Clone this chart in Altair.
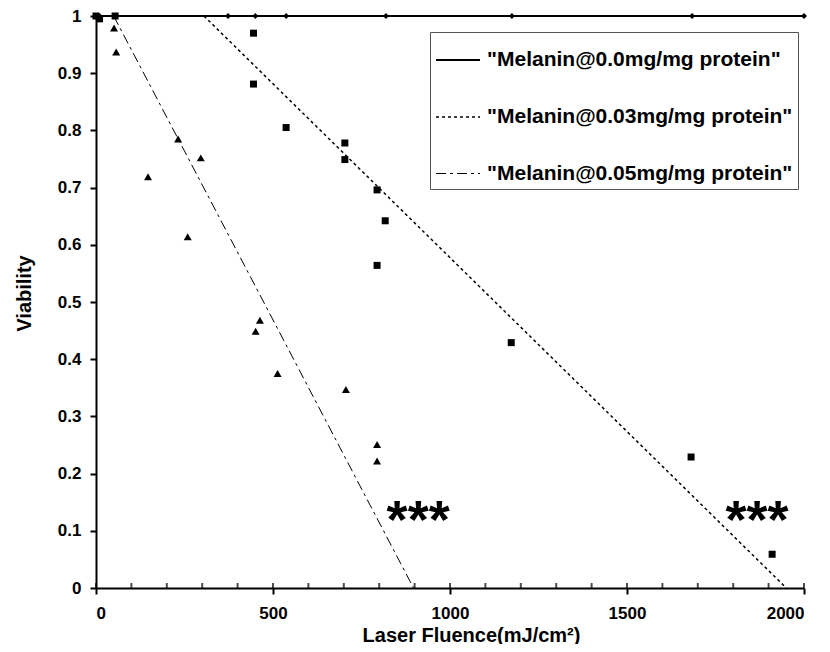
import altair as alt
import pandas as pd

FONT = "Liberation Sans"

series_names = [
    '"Melanin@0.0mg/mg protein"',
    '"Melanin@0.03mg/mg protein"',
    '"Melanin@0.05mg/mg protein"',
]

# Melanin 0.0 (diamonds on the solid line)
s0_x = [0, 10, 50, 373, 450, 537, 819, 1175, 1684, 2000]
s0_y = [1.0, 1.0, 1.0, 1.0, 1.0, 1.0, 1.0, 1.0, 1.0, 1.0]

# Melanin 0.03 (squares)
s1_x = [0, 10, 54, 445, 445, 537, 703, 703, 794, 817, 794, 1173, 1681, 1910]
s1_y = [1.0, 0.995, 1.0, 0.97, 0.881, 0.805, 0.778, 0.749, 0.696, 0.642, 0.564, 0.429, 0.229, 0.059]

# Melanin 0.05 (triangles)
s2_x = [51, 57, 147, 232, 296, 259, 463, 451, 513, 706, 794, 794]
s2_y = [0.979, 0.937, 0.719, 0.785, 0.752, 0.614, 0.468, 0.449, 0.375, 0.347, 0.251, 0.222]

# trend lines
t1_x = [305, 1950]
t1_y = [1.0, 0.0]
t2_x = [50, 897]
t2_y = [1.0, 0.0]

# significance marks
star_x = [910, 1867]
star_y = [0.133, 0.133]
star_text = ["***", "***"]

# axis ticks
x_major = [0, 500, 1000, 1500, 2000]
x_minor = [0, 100, 200, 300, 400, 500, 600, 700, 800, 900, 1000,
           1100, 1200, 1300, 1400, 1500, 1600, 1700, 1800, 1900, 2000]
y_ticks = [0, 0.1, 0.2, 0.3, 0.4, 0.5, 0.6, 0.7, 0.8, 0.9, 1.0]

lines = pd.concat([
    pd.DataFrame({"series": series_names[0], "x": s0_x, "y": s0_y}),
    pd.DataFrame({"series": series_names[1], "x": t1_x, "y": t1_y}),
    pd.DataFrame({"series": series_names[2], "x": t2_x, "y": t2_y}),
], ignore_index=True)
lines["o"] = range(len(lines))

pts0 = pd.DataFrame({"x": s0_x, "y": s0_y})
pts1 = pd.DataFrame({"x": s1_x, "y": s1_y})
pts2 = pd.DataFrame({"x": s2_x, "y": s2_y})
stars = pd.DataFrame({"x": star_x, "y": star_y, "t": star_text})
minor = pd.DataFrame({"x": x_minor, "y": [0] * len(x_minor)})

xscale = alt.Scale(domain=[0, 2000], nice=False, zero=False)
yscale = alt.Scale(domain=[0, 1], nice=False, zero=False)

X = alt.X("x:Q", scale=xscale, axis=alt.Axis(
    values=x_major, format="d", title="Laser Fluence(mJ/cm²)", labelPadding=11,
    titleX=375, titleY=53, titleBaseline="alphabetic", titleAlign="center"))
Y = alt.Y("y:Q", scale=yscale, axis=alt.Axis(
    values=y_ticks, format=".1~f", title="Viability", labelPadding=9,
    titleAngle=270, titleX=-72, titleY=277, titleBaseline="middle", titleAlign="center"))

line_layer = alt.Chart(lines).mark_line(color="black").encode(
    x=X, y=Y, order="o:Q",
    strokeDash=alt.StrokeDash("series:N", scale=alt.Scale(
        domain=series_names, range=[[1, 0], [3, 3], [10, 4, 3, 4]]),
        legend=alt.Legend(title=None)),
    strokeWidth=alt.StrokeWidth("series:N", scale=alt.Scale(
        domain=series_names, range=[2, 1, 1]), legend=None),
)

d_layer = alt.Chart(pts0).mark_point(shape="diamond", filled=True, color="black", size=36, opacity=1).encode(x="x:Q", y="y:Q")
s_layer = alt.Chart(pts1).mark_point(shape="square", filled=True, color="black", size=49, opacity=1).encode(x="x:Q", y="y:Q")
t_layer = alt.Chart(pts2).mark_point(shape="triangle-up", filled=True, color="black", size=64, opacity=1).encode(x="x:Q", y="y:Q")

star_layer = alt.Chart(stars).mark_text(
    font=FONT, fontSize=54, fontWeight="bold", color="black", baseline="middle", dy=10
).encode(x="x:Q", y="y:Q", text="t:N")

minor_layer = alt.Chart(minor).mark_tick(
    orient="vertical", size=5, thickness=2, color="black", yOffset=-2.5
).encode(x="x:Q", y="y:Q")

chart = alt.layer(line_layer, d_layer, s_layer, t_layer, star_layer, minor_layer).properties(
    width=708, height=572,
    autosize=alt.AutoSizeParams(type="none"),
    padding={"left": 88, "top": 8, "right": 18, "bottom": 56},
).configure_view(stroke=None).configure_axis(
    grid=False, domainColor="black", domainWidth=2, tickColor="black", tickWidth=2, tickSize=6,
    labelFont=FONT, labelFontSize=17, labelFontWeight="bold", labelColor="black",
    titleFont=FONT, titleFontSize=20, titleFontWeight="bold", titleColor="black",
).configure_legend(
    orient="none", legendX=334, legendY=16, strokeColor="#555", fillColor="white",
    padding=5, symbolType="stroke", symbolSize=1936, symbolStrokeColor="black",
    symbolStrokeWidth=1.5, labelFont=FONT, labelFontSize=21, labelFontWeight="bold",
    labelColor="black", labelLimit=0, rowPadding=24, labelOffset=6,
)

chart.save("out.html", embed_options={"renderer": "svg", "actions": False})
